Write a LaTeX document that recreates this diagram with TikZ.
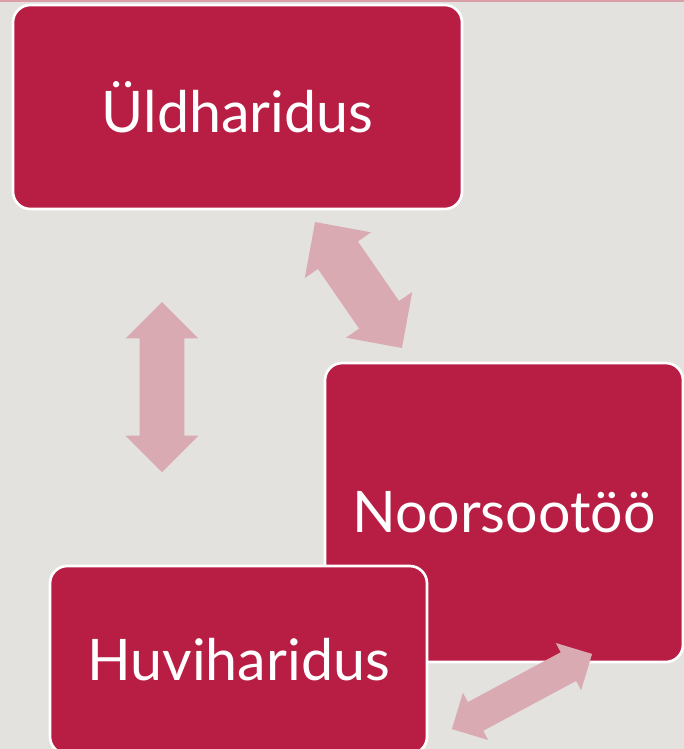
\documentclass[tikz,border=0pt]{standalone}
\usepackage{fontspec}
\setmainfont{Lato}
\usetikzlibrary{shapes.arrows}
\definecolor{crimson}{RGB}{184, 30, 68}
\definecolor{blush}{RGB}{217, 170, 178}
\definecolor{paper}{RGB}{228, 226, 222}
\definecolor{rimline}{RGB}{218, 160, 170}

\begin{document}
\begin{tikzpicture}[
    x=0.75pt, y=-0.75pt,
    block/.style={rectangle, rounded corners=13pt, draw=white, line width=2pt, fill=crimson, text=white, font=\fontsize{43}{50}\selectfont, inner sep=0pt},
    link/.style={double arrow, fill=blush, draw=none, inner xsep=0pt, outer sep=0pt}
]
    \fill[paper] (0,0) rectangle (684,749);
    \clip (0,0) rectangle (684,749);
    \fill[rimline] (0,0) rectangle (684,2.5);

    \node[block, minimum width=336.75pt, minimum height=153pt] (general) at (237.5,107) {Üldharidus};
    \node[block, minimum width=268.5pt, minimum height=224.25pt] (youth) at (504,512.5) {Noorsootöö};
    \node[block, minimum width=282.75pt, minimum height=141pt] (hobby) at (238.5,660) {Huviharidus};

    \node[link, minimum height=127.5pt, inner ysep=16.5pt, double arrow head extend=10.5pt, rotate=90] (linkgh) at (162,387) {};
    \node[link, minimum height=114.75pt, inner ysep=18pt, double arrow head extend=12pt, rotate=-55.4] (linkgy) at (358.5,285) {};
    \node[link, minimum height=119.25pt, inner ysep=12pt, double arrow head extend=7.9pt, rotate=28.2] (linkhy) at (522,691.5) {};
\end{tikzpicture}
\end{document}
